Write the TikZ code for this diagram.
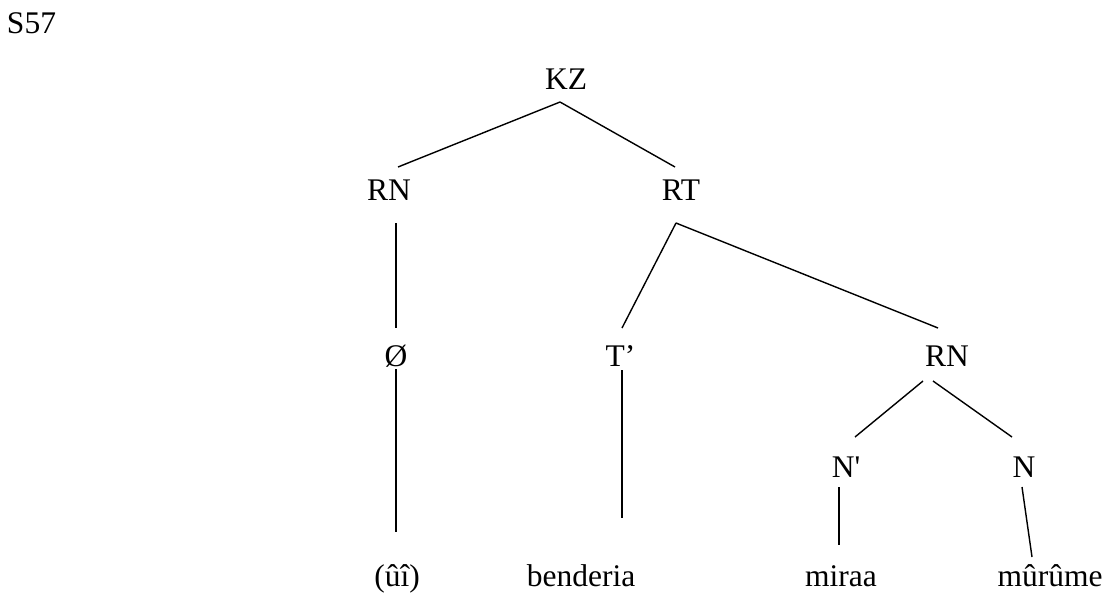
\documentclass[tikz,border=0pt]{standalone}
\usepackage{fontspec}
\setmainfont{Liberation Serif}[Ligatures=TeXOff]
\begin{document}
\begin{tikzpicture}[x=1pt,y=-1pt,
  lbl/.style={anchor=base,inner sep=0pt,font=\fontsize{31.5}{36}\selectfont},
  edge/.style={line width=1.4pt,line cap=butt}]
\useasboundingbox (0,0) rectangle (1115,595);
\node[lbl] (s57) at (31.5,33) {S57};
\node[lbl] (kz) at (566,89) {KZ};
\node[lbl] (rn1) at (389,200) {RN};
\node[lbl] (rt) at (681,200) {RT};
\node[lbl] (null) at (396,366) {Ø};
\node[lbl] (tp) at (620.5,366) {T’};
\node[lbl] (rn2) at (947,366) {RN};
\node[lbl] (np) at (846,477) {N'};
\node[lbl] (n) at (1024,477) {N};
\node[lbl] (ui) at (397,586) {(ûî)};
\node[lbl] (bend) at (581,586) {benderia};
\node[lbl] (miraa) at (841,586) {miraa};
\node[lbl] (murume) at (1050,586) {mûrûme};
% connectors
\draw[edge] ([shift={(-6,13)}]kz.base) -- ([shift={(9,-33)}]rn1.base);
\draw[edge] ([shift={(-6,13)}]kz.base) -- ([shift={(-6,-33)}]rt.base);
\draw[edge] ([shift={(7,23)}]rn1.base) -- ([shift={(0,-38)}]null.base);
\draw[edge] ([shift={(0,3)}]null.base) -- ([shift={(-1,-54)}]ui.base);
\draw[edge] ([shift={(-5,23)}]rt.base) -- ([shift={(1.5,-38)}]tp.base);
\draw[edge] ([shift={(-5,23)}]rt.base) -- ([shift={(-9,-38)}]rn2.base);
\draw[edge] ([shift={(1.5,4)}]tp.base) -- ([shift={(41,-68)}]bend.base);
\draw[edge] ([shift={(-24,15)}]rn2.base) -- ([shift={(9,-40)}]np.base);
\draw[edge] ([shift={(-14,15)}]rn2.base) -- ([shift={(-12,-40)}]n.base);
\draw[edge] ([shift={(-7,10)}]np.base) -- ([shift={(-2,-41)}]miraa.base);
\draw[edge] ([shift={(-2,10)}]n.base) -- ([shift={(-18,-29)}]murume.base);
\end{tikzpicture}
\end{document}
